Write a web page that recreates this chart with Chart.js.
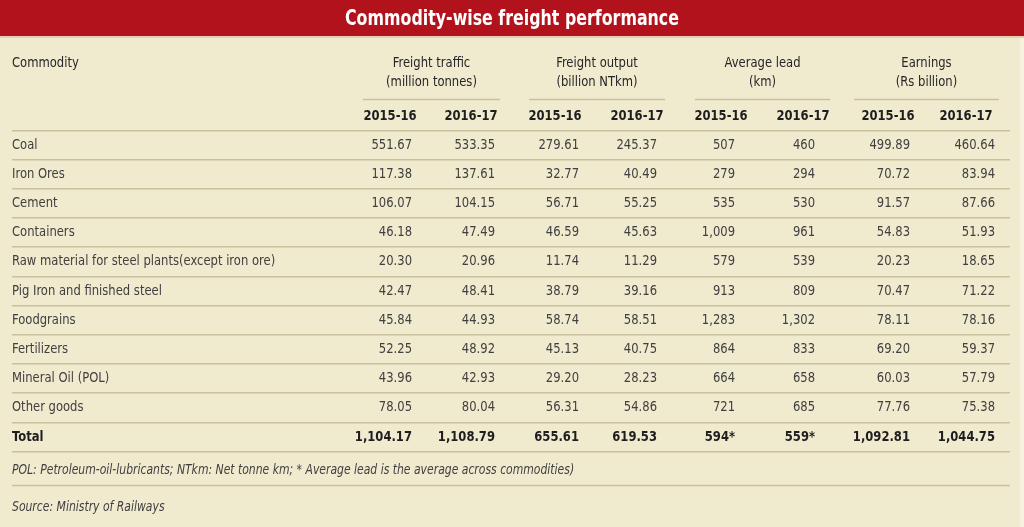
<!DOCTYPE html>
<html>
<head>
<meta charset="utf-8">
<script src="https://cdn.jsdelivr.net/npm/chart.js@4.4.1/dist/chart.umd.min.js"></script>
<style>
  html, body { margin: 0; padding: 0; background: #f0eacf; }
  #wrap { width: 1024px; height: 527px; }
</style>
</head>
<body>
<div id="wrap"><canvas id="myChart" width="1024" height="527"></canvas></div>
<script>
// datos de la tabla
const commodities = ['Coal', 'Iron Ores', 'Cement', 'Containers',
    'Raw material for steel plants(except iron ore)', 'Pig Iron and finished steel',
    'Foodgrains', 'Fertilizers', 'Mineral Oil (POL)', 'Other goods', 'Total'];
const traffic1516 = [551.67, 117.38, 106.07, 46.18, 20.30, 42.47, 45.84, 52.25, 43.96, 78.05, 1104.17];
const traffic1617 = [533.35, 137.61, 104.15, 47.49, 20.96, 48.41, 44.93, 48.92, 42.93, 80.04, 1108.79];
const output1516 = [279.61, 32.77, 56.71, 46.59, 11.74, 38.79, 58.74, 45.13, 29.20, 56.31, 655.61];
const output1617 = [245.37, 40.49, 55.25, 45.63, 11.29, 39.16, 58.51, 40.75, 28.23, 54.86, 619.53];
const lead1516 = [507, 279, 535, 1009, 579, 913, 1283, 864, 664, 721, 594];
const lead1617 = [460, 294, 530, 961, 539, 809, 1302, 833, 658, 685, 559];
const earn1516 = [499.89, 70.72, 91.57, 54.83, 20.23, 70.47, 78.11, 69.20, 60.03, 77.76, 1092.81];
const earn1617 = [460.64, 83.94, 87.66, 51.93, 18.65, 71.22, 78.16, 59.37, 57.79, 75.38, 1044.75];
const groups = ['Freight traffic', 'Freight output', 'Average lead', 'Earnings'];
const units = ['(million tonnes)', '(billion NTkm)', '(km)', '(Rs billion)'];
const years = ['2015-16', '2016-17'];
const titleText = 'Commodity-wise freight performance';
const noteText = 'POL: Petroleum-oil-lubricants; NTkm: Net tonne km; * Average lead is the average across commodities)';
const sourceText = 'Source: Ministry of Railways';

// columnas: borde derecho de los valores (en unidades de la escala x)
const columns = [traffic1516, traffic1617, output1516, output1617, lead1516, lead1617, earn1516, earn1617];
const colRight = [412, 495, 579, 657, 735, 815, 910, 995];
const yearCenter = [390, 471, 555, 637, 721, 803, 888, 966];
const groupSpan = [[363, 500], [529, 665], [695, 830], [854, 999]];
const decimals = [2, 2, 2, 2, 0, 0, 2, 2];

const FONT = '"Liberation Sans Narrow", "DejaVu Sans Condensed", "Roboto", sans-serif';
const BG = '#f0eacf';
const RED = '#b1121c';
const RULE = '#c9c19e';
const TXT = '#404040';
const DARK = '#1e1e1e';

function fmt(v, d) {
    return v.toLocaleString('en-US', { minimumFractionDigits: d, maximumFractionDigits: d });
}

// texto estrechado horizontalmente (la fuente condensada original no existe)
function drawText(ctx, s, px, py, sx) {
    ctx.save();
    ctx.translate(px, py);
    ctx.scale(sx, 1);
    ctx.fillText(s, 0, 0);
    ctx.restore();
}

const datasets = columns.map((vals, c) => ({
    label: 'col' + c,
    data: vals.map((v, i) => ({ x: colRight[c], y: commodities[i], v: v })),
    pointRadius: 0,
    pointHoverRadius: 0,
    showLine: false
}));

const tablePlugin = {
    id: 'tablePlugin',
    beforeDraw(chart) {
        const ctx = chart.ctx;
        ctx.save();
        ctx.fillStyle = BG;
        ctx.fillRect(0, 0, chart.width, chart.height);
        ctx.fillStyle = '#f6f2de';
        ctx.fillRect(chart.width - 4, 36, 4, chart.height - 36);
        ctx.fillStyle = RED;
        ctx.fillRect(0, 0, chart.width, 36);
        ctx.fillStyle = '#e8cdb3';
        ctx.fillRect(0, 36, chart.width, 2);
        ctx.restore();
    },
    afterDatasetsDraw(chart) {
        const ctx = chart.ctx;
        const x = chart.scales.x;
        const y = chart.scales.y;
        const last = commodities.length - 1;
        const SX = 0.92;
        ctx.save();
        ctx.textBaseline = 'middle';

        // titulo
        ctx.fillStyle = '#ffffff';
        ctx.textAlign = 'center';
        ctx.font = 'bold 22px ' + FONT;
        const tw = ctx.measureText(titleText).width;
        drawText(ctx, titleText, chart.width / 2, 19, Math.min(1, 334 / tw));

        // cabeceras
        ctx.fillStyle = '#262626';
        ctx.font = '14px ' + FONT;
        ctx.textAlign = 'left';
        drawText(ctx, 'Commodity', x.getPixelForValue(12), 63, SX);
        ctx.textAlign = 'center';
        groups.forEach((g, k) => {
            const cx = x.getPixelForValue((groupSpan[k][0] + groupSpan[k][1]) / 2);
            drawText(ctx, g, cx, 63, SX);
            drawText(ctx, units[k], cx, 82, SX);
            ctx.strokeStyle = RULE;
            ctx.lineWidth = 1.5;
            ctx.beginPath();
            ctx.moveTo(x.getPixelForValue(groupSpan[k][0]), 99.5);
            ctx.lineTo(x.getPixelForValue(groupSpan[k][1]), 99.5);
            ctx.stroke();
        });
        ctx.fillStyle = DARK;
        ctx.font = 'bold 14px ' + FONT;
        yearCenter.forEach((c, k) => {
            drawText(ctx, years[k % 2], x.getPixelForValue(c), 116, SX);
        });

        // nombres de filas
        ctx.textAlign = 'left';
        commodities.forEach((name, i) => {
            ctx.fillStyle = i === last ? DARK : TXT;
            ctx.font = (i === last ? 'bold ' : '') + '14px ' + FONT;
            drawText(ctx, name, x.getPixelForValue(12), y.getPixelForValue(i), SX);
        });

        // valores
        ctx.textAlign = 'right';
        chart.data.datasets.forEach((ds, c) => {
            const meta = chart.getDatasetMeta(c);
            meta.data.forEach((pt, i) => {
                let s = fmt(ds.data[i].v, decimals[c]);
                if (i === last && decimals[c] === 0) s += '*';
                ctx.fillStyle = i === last ? DARK : TXT;
                ctx.font = (i === last ? 'bold ' : '') + '14px ' + FONT;
                drawText(ctx, s, pt.x, pt.y, SX);
            });
        });

        // notas
        ctx.fillStyle = TXT;
        ctx.font = 'italic 14px ' + FONT;
        ctx.textAlign = 'left';
        drawText(ctx, noteText, x.getPixelForValue(12), 470, 0.86);
        ctx.strokeStyle = RULE;
        ctx.lineWidth = 1.5;
        ctx.beginPath();
        ctx.moveTo(x.getPixelForValue(12), 485.5);
        ctx.lineTo(x.getPixelForValue(1010), 485.5);
        ctx.stroke();
        drawText(ctx, sourceText, x.getPixelForValue(12), 507, 0.86);
        ctx.restore();
    }
};

const chart = new Chart(document.getElementById('myChart').getContext('2d'), {
    type: 'scatter',
    data: { labels: commodities, datasets: datasets },
    options: {
        responsive: false,
        animation: false,
        events: [],
        layout: { padding: { left: 12, right: 14, top: 130.4, bottom: 75.4 } },
        plugins: { legend: { display: false }, tooltip: { enabled: false } },
        scales: {
            x: { type: 'linear', min: 12, max: 1010, display: false },
            y: {
                type: 'category',
                labels: commodities,
                offset: true,
                ticks: { display: false },
                border: { display: false },
                grid: { offset: true, color: RULE, lineWidth: 1.5, drawTicks: false, tickLength: 0 }
            }
        }
    },
    plugins: [tablePlugin]
});
</script>
</body>
</html>
